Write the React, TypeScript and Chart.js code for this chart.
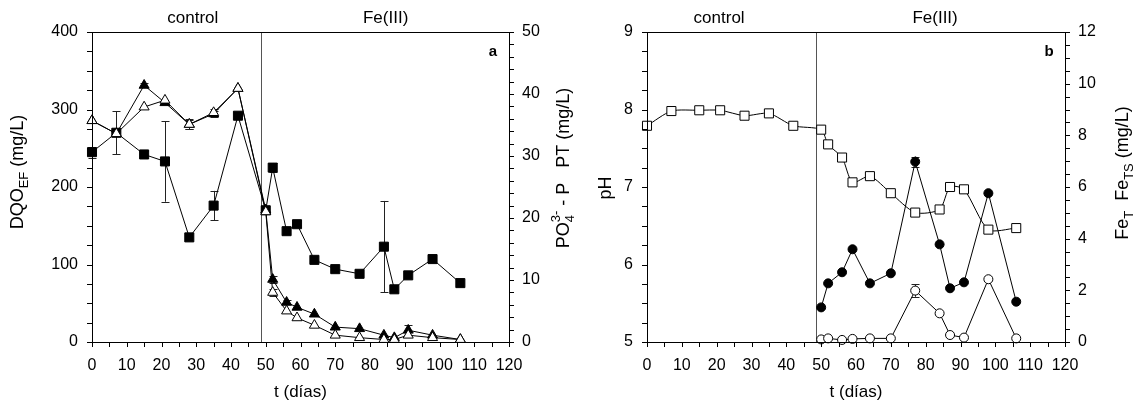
import React, { useEffect, useRef } from 'react';
import { Chart, registerables } from 'chart.js';
Chart.register(...registerables);

const FONT = "'Liberation Sans', Arial, sans-serif";

// ---- Panel a data ----
const daysA = [0, 7, 15, 21, 28, 35, 42, 50, 52, 56, 59, 64, 70, 77, 84, 87, 91, 98, 106];
const dqo = [245, 270, 242, 233, 135, 176, 292, 170, 225, 143, 152, 106, 94, 88, 123, 68, 86, 107, 76];
const dqoErr = [7, 28, 5, 52, 0, 19, 4, 0, 6, 0, 0, 0, 0, 0, 59, 0, 0, 0, 0];
const pt = [35.7, 33.6, 41.4, 38.6, 35.1, 36.8, 40.9, 21.3, 10.1, 6.4, 5.6, 4.5, 2.4, 2.15, 1.1, 0.7, 1.9, 1.1, 0.4];
const ptErr = [0, 0, 0.3, 0, 0.7, 0.5, 0, 0, 0.6, 0.3, 0, 0, 0, 0, 0, 0, 0.8, 0, 0];
const po4 = [35.7, 33.6, 37.9, 39.0, 35.1, 37.0, 40.9, 21.0, 8.0, 5.0, 3.9, 2.7, 1.1, 0.7, 0.4, 0.4, 1.1, 0.7, 0.4];
const po4Err = [0, 0, 0, 0, 0.8, 0.6, 0, 0, 0.5, 0, 0, 0, 0, 0, 0, 0, 0, 0, 0];

// ---- Panel b data ----
const daysB = [0, 7, 15, 21, 28, 35, 42, 50, 52, 56, 59, 64, 70, 77, 84, 87, 91, 98, 106];
const pH = [7.79, 7.98, 7.99, 7.99, 7.92, 7.95, 7.79, 7.74, 7.55, 7.38, 7.06, 7.14, 6.92, 6.67, 6.71, 7.0, 6.97, 6.45, 6.47];
const daysFe = [50, 52, 56, 59, 64, 70, 77, 84, 87, 91, 98, 106];
const feT = [1.34, 2.27, 2.7, 3.59, 2.27, 2.66, 6.98, 3.78, 2.08, 2.31, 5.76, 1.56];
const feTErr = [0, 0, 0, 0, 0, 0, 0.2, 0, 0, 0, 0, 0];
const feTS = [0.1, 0.14, 0.08, 0.12, 0.14, 0.14, 1.99, 1.11, 0.27, 0.17, 2.43, 0.14];
const feTSErr = [0, 0, 0, 0, 0, 0, 0.24, 0, 0, 0, 0, 0];

const xTicks = [0, 120, 10, 5];
const phaseSplit = 48.5;

const SPLIT = 588; // canvas boundary (page px)

type Part = { t: string; s: number; dy?: number; adv?: boolean };

function drawRotatedRich(ctx: CanvasRenderingContext2D, parts: Part[], cx: number, cy: number, main: number) {
  ctx.save();
  ctx.translate(cx, cy);
  ctx.rotate(-Math.PI / 2);
  let total = 0;
  for (const p of parts) {
    ctx.font = `${p.s}px ${FONT}`;
    const w = ctx.measureText(p.t).width;
    if (p.adv !== false) total += w;
  }
  let x = -total / 2;
  const base = main * 0.36;
  ctx.fillStyle = '#000';
  ctx.textBaseline = 'alphabetic';
  ctx.textAlign = 'left';
  for (const p of parts) {
    ctx.font = `${p.s}px ${FONT}`;
    ctx.fillText(p.t, x, base + (p.dy || 0));
    if (p.adv !== false) x += ctx.measureText(p.t).width;
  }
  ctx.restore();
}

function px(v: number) {
  return Math.round(v) + 0.5;
}

type ErrSpec = { days: number[]; vals: number[]; errs: number[]; axis: string };
type PanelCfg = {
  leftAxis: string;
  rightAxis: string;
  leftTicks: number[]; // min,max,major,minor
  rightTicks: number[];
  errors: ErrSpec[];
  phaseLabels: { t: string; x: number }[];
  letter: string;
  leftTitle: Part[];
  leftTitlePos: number[];
  rightTitle: Part[];
  rightTitlePos: number[];
};

function makePlugin(cfg: PanelCfg) {
  return {
    id: 'panelDecor',
    beforeDatasetsDraw(chart: any) {
      const ctx: CanvasRenderingContext2D = chart.ctx;
      const xs = chart.scales.x;
      ctx.save();
      ctx.strokeStyle = '#222';
      ctx.lineWidth = 1;
      for (const e of cfg.errors) {
        const ys = chart.scales[e.axis];
        e.errs.forEach((er, i) => {
          if (!er) return;
          const x = px(xs.getPixelForValue(e.days[i]));
          const y1 = ys.getPixelForValue(e.vals[i] + er);
          const y2 = ys.getPixelForValue(e.vals[i] - er);
          ctx.beginPath();
          ctx.moveTo(x, y1);
          ctx.lineTo(x, y2);
          ctx.moveTo(x - 4, px(y1));
          ctx.lineTo(x + 4, px(y1));
          ctx.moveTo(x - 4, px(y2));
          ctx.lineTo(x + 4, px(y2));
          ctx.stroke();
        });
      }
      // phase separator
      const sx = px(xs.getPixelForValue(phaseSplit));
      const a = chart.chartArea;
      ctx.strokeStyle = '#555';
      ctx.beginPath();
      ctx.moveTo(sx, a.top);
      ctx.lineTo(sx, a.bottom);
      ctx.stroke();
      ctx.restore();
    },
    afterDraw(chart: any) {
      const ctx: CanvasRenderingContext2D = chart.ctx;
      const a = chart.chartArea;
      const xs = chart.scales.x;
      const yl = chart.scales[cfg.leftAxis];
      const yr = chart.scales[cfg.rightAxis];
      ctx.save();
      ctx.strokeStyle = '#000';
      ctx.lineWidth = 1;
      ctx.strokeRect(px(a.left), px(a.top), Math.round(a.right) - Math.round(a.left), Math.round(a.bottom) - Math.round(a.top));
      const L = 5;
      ctx.beginPath();
      // x ticks
      for (let v = xTicks[0]; v <= xTicks[1] + 1e-6; v += xTicks[3]) {
        const x = px(xs.getPixelForValue(v));
        ctx.moveTo(x, a.bottom);
        ctx.lineTo(x, a.bottom + L);
      }
      const [lmin, lmax, , lminor] = cfg.leftTicks;
      for (let v = lmin; v <= lmax + 1e-6; v += lminor) {
        const y = px(yl.getPixelForValue(v));
        ctx.moveTo(a.left, y);
        ctx.lineTo(a.left - L, y);
      }
      const [rmin, rmax, , rminor] = cfg.rightTicks;
      for (let v = rmin; v <= rmax + 1e-6; v += rminor) {
        const y = px(yr.getPixelForValue(v));
        ctx.moveTo(a.right, y);
        ctx.lineTo(a.right + L, y);
      }
      ctx.stroke();

      ctx.fillStyle = '#000';
      ctx.textAlign = 'center';
      ctx.textBaseline = 'middle';
      ctx.font = `17px ${FONT}`;
      for (const p of cfg.phaseLabels) {
        ctx.fillText(p.t, xs.getPixelForValue(p.x), 18);
      }
      ctx.font = `bold 15px ${FONT}`;
      ctx.fillText(cfg.letter, a.right - 16, a.top + 20);
      ctx.font = `17px ${FONT}`;
      ctx.fillText('t (días)', (a.left + a.right) / 2, 392);
      ctx.restore();
      drawRotatedRich(ctx, cfg.leftTitle, cfg.leftTitlePos[0], cfg.leftTitlePos[1], 18);
      drawRotatedRich(ctx, cfg.rightTitle, cfg.rightTitlePos[0], cfg.rightTitlePos[1], 18);
    },
  };
}

function pts(days: number[], vals: number[]) {
  return days.map((d, i) => ({ x: d, y: vals[i] }));
}

function lineDs(data: any[], axis: string, style: string, radius: number, fill: boolean, tension = 0) {
  return {
    data,
    yAxisID: axis,
    borderColor: '#000',
    borderWidth: 1,
    tension,
    fill: false,
    clip: false as any,
    pointStyle: style,
    pointRadius: radius,
    pointBackgroundColor: fill ? '#000' : '#fff',
    pointBorderColor: '#000',
    pointBorderWidth: 1,
  };
}

function tickFont() {
  return { family: FONT, size: 16 };
}

function makeConfig(datasets: any[], left: any, right: any, leftW: number, rightW: number, plugin: any) {
  return {
    type: 'line' as const,
    data: { datasets },
    plugins: [plugin],
    options: {
      animation: false as const,
      responsive: false,
      devicePixelRatio: 1,
      layout: { padding: { top: 32, left: 0, right: 0, bottom: 0 } },
      plugins: { legend: { display: false }, tooltip: { enabled: false } },
      scales: {
        x: {
          type: 'linear' as const,
          min: xTicks[0],
          max: xTicks[1],
          grid: { display: false, drawTicks: false },
          border: { display: false },
          ticks: { stepSize: xTicks[2], autoSkip: false, maxRotation: 0, padding: 14, color: '#000', font: tickFont() },
          afterFit: (s: any) => {
            s.height = 70;
          },
        },
        [left.id]: {
          type: 'linear' as const,
          position: 'left' as const,
          min: left.min,
          max: left.max,
          grid: { display: false, drawTicks: false },
          border: { display: false },
          ticks: { stepSize: left.step, padding: 14, color: '#000', font: tickFont() },
          afterFit: (s: any) => {
            s.width = leftW;
          },
        },
        [right.id]: {
          type: 'linear' as const,
          position: 'right' as const,
          min: right.min,
          max: right.max,
          grid: { display: false, drawTicks: false },
          border: { display: false },
          ticks: { stepSize: right.step, padding: 13, color: '#000', font: tickFont() },
          afterFit: (s: any) => {
            s.width = rightW;
          },
        },
      },
    },
  };
}

export default function App() {
  const refA = useRef<HTMLCanvasElement>(null);
  const refB = useRef<HTMLCanvasElement>(null);

  useEffect(() => {
    const pluginA = makePlugin({
      leftAxis: 'yDqo',
      rightAxis: 'yP',
      leftTicks: [0, 400, 100, 25],
      rightTicks: [0, 50, 10, 2],
      errors: [
        { days: daysA, vals: dqo, errs: dqoErr, axis: 'yDqo' },
        { days: daysA, vals: pt, errs: ptErr, axis: 'yP' },
        { days: daysA, vals: po4, errs: po4Err, axis: 'yP' },
      ],
      phaseLabels: [
        { t: 'control', x: 29 },
        { t: 'Fe(III)', x: 84.5 },
      ],
      letter: 'a',
      leftTitle: [
        { t: 'DQO', s: 18 },
        { t: 'EF', s: 13, dy: 5 },
        { t: ' (mg/L)', s: 18 },
      ],
      leftTitlePos: [17, 172],
      rightTitle: [
        { t: 'PO', s: 18 },
        { t: '4', s: 13, dy: 5, adv: false },
        { t: '3-', s: 13, dy: -9 },
        { t: ' - P   PT (mg/L)', s: 18 },
      ],
      rightTitlePos: [563, 168],
    });
    const chartA = new Chart(
      refA.current as HTMLCanvasElement,
      makeConfig(
        [
          lineDs(pts(daysA, po4), 'yP', 'triangle', 5.8, false),
          lineDs(pts(daysA, pt), 'yP', 'triangle', 5.8, true),
          lineDs(pts(daysA, dqo), 'yDqo', 'rect', 6.4, true),
        ],
        { id: 'yDqo', min: 0, max: 400, step: 100 },
        { id: 'yP', min: 0, max: 50, step: 10 },
        92,
        SPLIT - 509,
        pluginA
      ) as any
    );

    const pluginB = makePlugin({
      leftAxis: 'yPh',
      rightAxis: 'yFe',
      leftTicks: [5, 9, 1, 0.25],
      rightTicks: [0, 12, 2, 0.5],
      errors: [
        { days: daysFe, vals: feT, errs: feTErr, axis: 'yFe' },
        { days: daysFe, vals: feTS, errs: feTSErr, axis: 'yFe' },
      ],
      phaseLabels: [
        { t: 'control', x: 20.7 },
        { t: 'Fe(III)', x: 82.7 },
      ],
      letter: 'b',
      leftTitle: [{ t: 'pH', s: 18 }],
      leftTitlePos: [605 - SPLIT, 188],
      rightTitle: [
        { t: 'Fe', s: 18 },
        { t: 'T', s: 13, dy: 5 },
        { t: '  Fe', s: 18 },
        { t: 'TS', s: 13, dy: 5 },
        { t: ' (mg/L)', s: 18 },
      ],
      rightTitlePos: [1122 - SPLIT, 173],
    });
    const chartB = new Chart(
      refB.current as HTMLCanvasElement,
      makeConfig(
        [
          lineDs(pts(daysFe, feTS), 'yFe', 'circle', 4.5, false),
          lineDs(pts(daysFe, feT), 'yFe', 'circle', 4.5, true),
          lineDs(pts(daysB, pH), 'yPh', 'rect', 6.4, false, 0.25),
        ],
        { id: 'yPh', min: 5, max: 9, step: 1 },
        { id: 'yFe', min: 0, max: 12, step: 2 },
        647 - SPLIT,
        (1137 - SPLIT) - (1065 - SPLIT),
        pluginB
      ) as any
    );
    return () => {
      chartA.destroy();
      chartB.destroy();
    };
  }, []);

  return (
    <div style={{ position: 'absolute', left: 0, top: 0, width: 1137, height: 412, background: '#fff' }}>
      <canvas ref={refA} width={SPLIT} height={412} style={{ position: 'absolute', left: 0, top: 0 }} />
      <canvas ref={refB} width={1137 - SPLIT} height={412} style={{ position: 'absolute', left: SPLIT, top: 0 }} />
    </div>
  );
}
